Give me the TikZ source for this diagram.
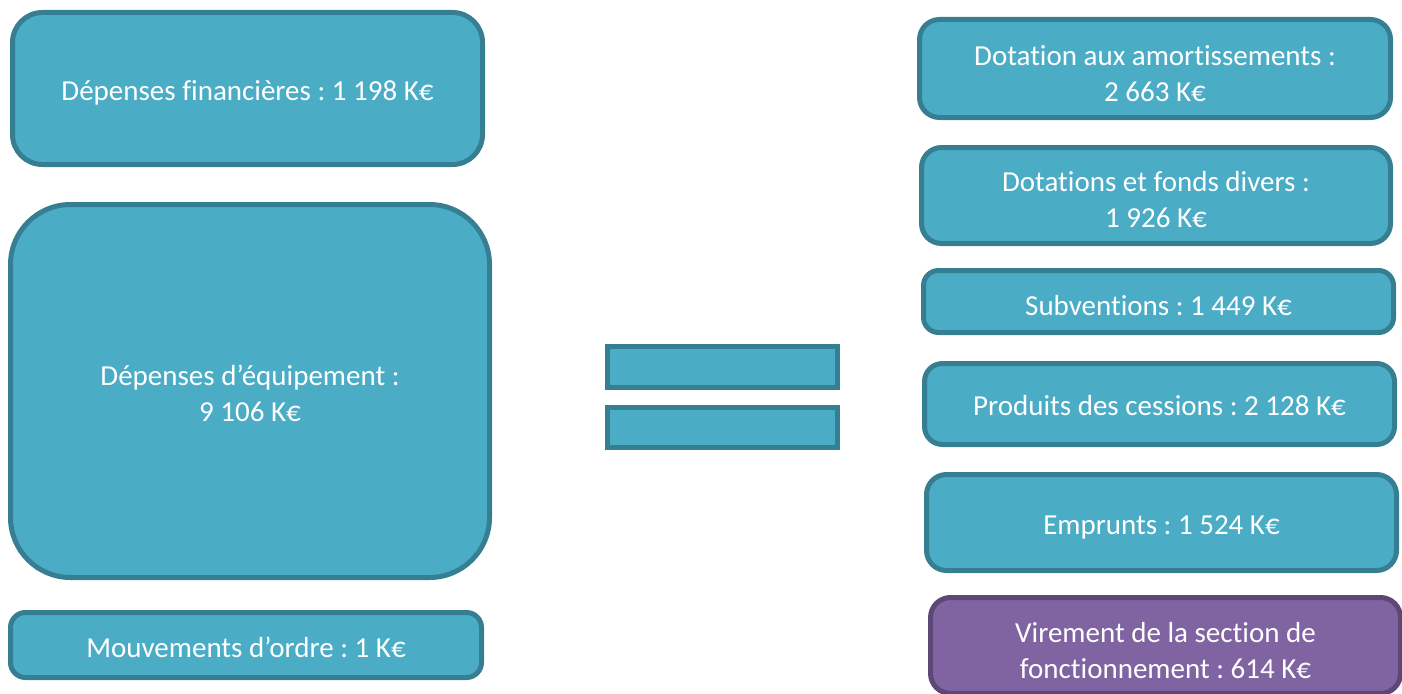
\documentclass[tikz,border=0pt]{standalone}
\usepackage{fontspec}
\setmainfont{Carlito}[Ligatures={NoCommon,NoContextual}]
\definecolor{fillc}{HTML}{4BACC6}
\definecolor{bordc}{HTML}{367F92}
\definecolor{pfill}{HTML}{8064A2}
\definecolor{pbord}{HTML}{5C4776}
\tikzset{
  box/.style={draw=bordc, fill=fillc, line width=5pt, rounded corners=#1, inner sep=0pt},
  txt/.style={text=white, align=center, inner sep=0pt,
    font=\fontsize{29}{36}\selectfont\frenchspacing},
  txtone/.style={txt, text height=21pt, text depth=7pt},
  bar/.style={draw=bordc, fill=fillc, line width=5pt, inner sep=0pt},
  pbox/.style={box=#1, draw=pbord, fill=pfill}
}
\begin{document}
\begin{tikzpicture}[x=1pt,y=-1pt]
\useasboundingbox (0,0) rectangle (1402,693);
\node[box=30pt, minimum width=470pt, minimum height=152pt] (fin) at (247.5,88.5) {};
\node[box=60pt, minimum width=479pt, minimum height=373pt] (equip) at (250,391) {};
\node[box=15pt, minimum width=471pt, minimum height=65pt] (mouv) at (246,645) {};
\node[bar, minimum width=230pt, minimum height=41pt] (bar1) at (722.5,367) {};
\node[bar, minimum width=230pt, minimum height=40pt] (bar2) at (722.5,427.5) {};
\node[box=20pt, minimum width=471pt, minimum height=98pt] (dot) at (1155,68.5) {};
\node[box=20pt, minimum width=469pt, minimum height=96pt] (fonds) at (1156,195.5) {};
\node[box=15pt, minimum width=470pt, minimum height=62pt] (subv) at (1158.5,301.5) {};
\node[box=18pt, minimum width=470pt, minimum height=81pt] (cess) at (1159.5,404) {};
\node[box=20pt, minimum width=470pt, minimum height=96pt] (empr) at (1161.5,522.5) {};
\node[pbox=20pt, minimum width=470pt, minimum height=96pt] (vir) at (1165.5,645.5) {};
\node[txtone] (fin-t) at ([yshift=-5pt]fin.center) {Dépenses financières : 1 198 K€};
\node[txt] (equip-t) at ([yshift=-2pt]equip.center) {Dépenses d’équipement :\\9 106 K€};
\node[txtone] (mouv-t) at ([yshift=-5pt]mouv.center) {Mouvements d’ordre : 1 K€};
\node[txt] (dot-t) at ([yshift=-5pt]dot.center) {Dotation aux amortissements :\\2 663 K€};
\node[txt] (fonds-t) at ([yshift=-4pt]fonds.center) {Dotations et fonds divers :\\1 926 K€};
\node[txtone] (subv-t) at ([yshift=-7pt]subv.center) {Subventions : 1 449 K€};
\node[txtone] (cess-t) at ([yshift=-4pt]cess.center) {Produits des cessions : 2 128 K€};
\node[txtone] (empr-t) at ([yshift=-5pt]empr.center) {Emprunts : 1 524 K€};
\node[txt] (vir-t) at ([yshift=-5.5pt]vir.center) {Virement de la section de\\fonctionnement : 614 K€};
\end{tikzpicture}
\end{document}
